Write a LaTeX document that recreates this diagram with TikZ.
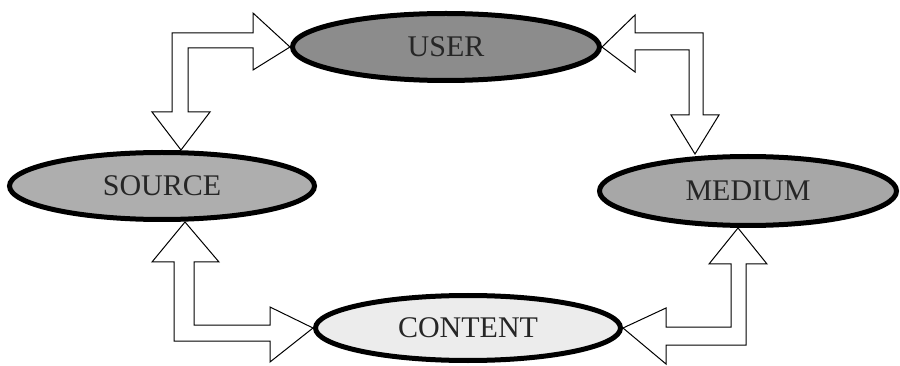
\documentclass[tikz,border=0pt]{standalone}
\usepackage{fontspec}
\setmainfont{Liberation Serif}
\usetikzlibrary{shapes.geometric}

\definecolor{userfill}{HTML}{8C8C8C}
\definecolor{sourcefill}{HTML}{AEAEAE}
\definecolor{mediumfill}{HTML}{A7A7A7}
\definecolor{contentfill}{HTML}{ECECEC}

\begin{document}
\begin{tikzpicture}[x=1pt,y=-1pt,
  entity/.style={ellipse, draw=black, line width=5pt, inner sep=0pt,
    minimum width=305pt, minimum height=67pt,
    font=\fontsize{30}{36}\selectfont, text=black!85},
  hollowarrow/.style={draw=black, fill=white, line width=1pt, line join=miter}]

\useasboundingbox (0,0) rectangle (900,366);
\fill[white] (0,0) rectangle (900,366);

% the four entities
\node[entity, fill=userfill, minimum width=307pt] (user) at (446,47) {USER};
\node[entity, fill=sourcefill] (source) at (162,186) {SOURCE};
\node[entity, fill=mediumfill, minimum width=297pt, minimum height=69pt] (medium) at (748,191) {MEDIUM};
\node[entity, fill=contentfill, minimum height=65pt] (content) at (468,328) {CONTENT};

% arrow tips on the entity borders
\coordinate (srcTop) at ([xshift=19pt]source.north);
\coordinate (srcBot) at ([xshift=23pt]source.south);
\coordinate (medTop) at ([xshift=-53pt]medium.north);
\coordinate (medBot) at ([xshift=-10pt]medium.south);

% USER <-> SOURCE
\draw[hollowarrow] (user.west) -- (253,13) -- (253,33) -- (172,33) -- (172,112)
  -- (152,112) -- (srcTop) -- (210,112) -- (188,112) -- (188,48) -- (253,48)
  -- (253,70) -- cycle;

% USER <-> MEDIUM
\draw[hollowarrow] (user.east) -- (635,15) -- (635,33) -- (703,33) -- (703,115)
  -- (719,115) -- (medTop) -- (671,115) -- (689,115) -- (689,50) -- (635,50)
  -- (635,72) -- cycle;

% SOURCE <-> CONTENT
\draw[hollowarrow] (srcBot) -- (219,262) -- (194,262) -- (194,325) -- (270,325)
  -- (270,307) -- (content.west) -- (270,362) -- (270,341) -- (174,341)
  -- (174,262) -- (152,262) -- cycle;

% CONTENT <-> MEDIUM
\draw[hollowarrow] (content.east) -- (666,308) -- (666,327) -- (731,327)
  -- (731,264) -- (709,264) -- (medBot) -- (767,264) -- (746,264)
  -- (746,345) -- (666,345) -- (666,364) -- cycle;

\end{tikzpicture}
\end{document}
